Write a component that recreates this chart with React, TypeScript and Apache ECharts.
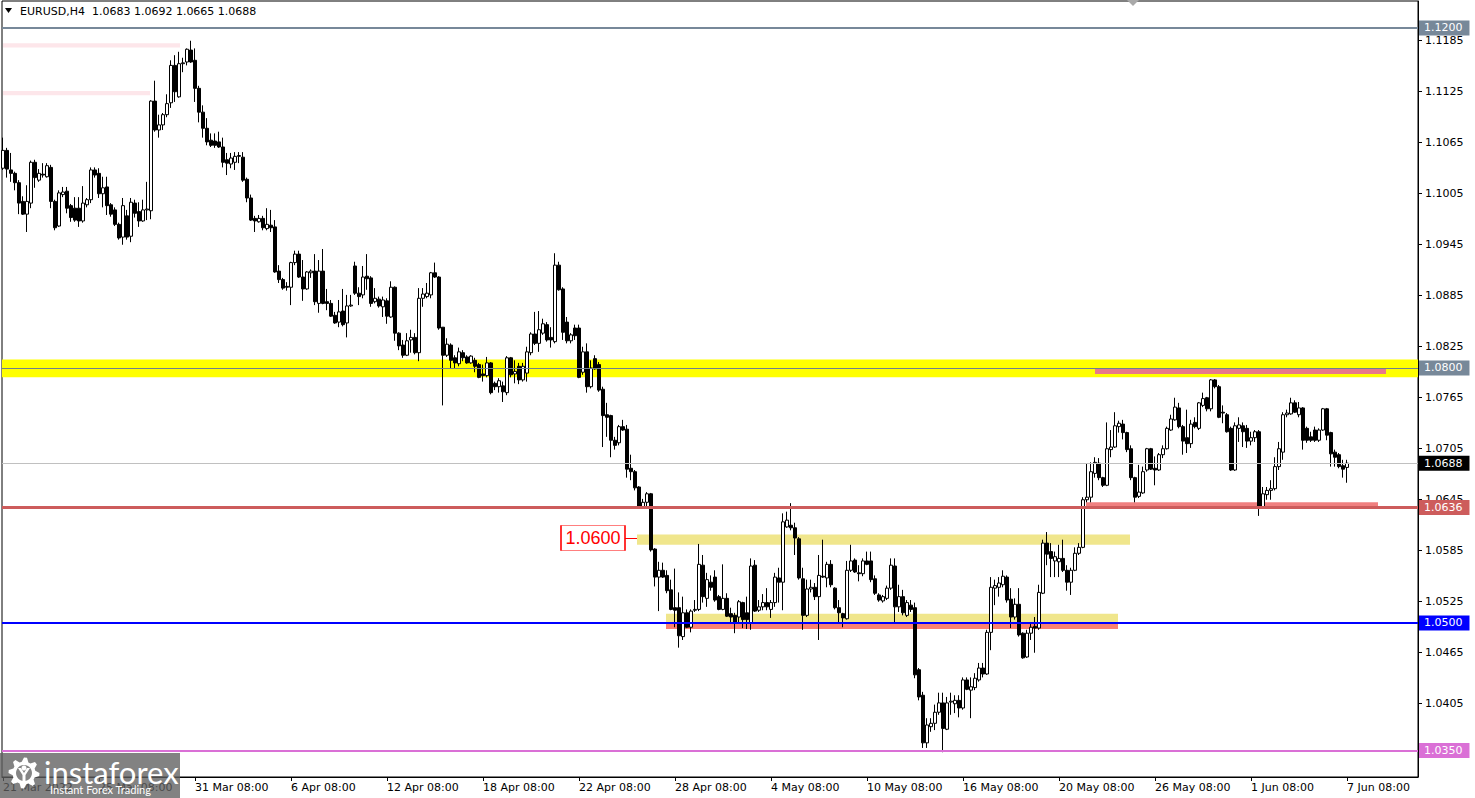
import React, { useEffect, useRef } from "react";
import * as echarts from "echarts";

// ---- data (EURUSD H4, bar index 0 = 21 Mar 2022 00:00) ----
const firstBar = 2;
const opens = [
  1.1035,1.1056,1.1033,1.1029,1.1018,1.0996,1.0981,1.0994,1.1042,1.1021,
  1.1028,1.1025,1.1036,1.0996,1.0967,1.1004,1.1008,1.0991,1.0988,1.0988,
  1.0973,1.0992,1.0998,1.1033,1.1029,1.1005,1.1013,1.0992,1.0986,1.0969,
  1.0954,1.0979,1.0955,1.0994,1.0984,1.0973,1.0986,1.0985,1.1114,1.1080,
  1.1086,1.1098,1.1112,1.1156,1.1119,1.1158,1.1160,1.1174,1.1162,1.1129,
  1.1101,1.1082,1.1068,1.1067,1.1066,1.1060,1.1045,1.1040,1.1042,1.1049,
  1.1048,1.1022,1.1000,1.0976,1.0972,1.0976,1.0964,1.0968,1.0966,1.0914,
  1.0904,1.0896,1.0895,1.0924,1.0934,1.0907,1.0893,1.0912,1.0914,1.0876,
  1.0914,1.0878,1.0876,1.0862,1.0854,1.0867,1.0853,1.0873,1.0920,1.0888,
  1.0886,1.0908,1.0906,1.0878,1.0881,1.0872,1.0879,1.0860,1.0895,1.0841,
  1.0827,1.0815,1.0833,1.0836,1.0818,1.0882,1.0884,1.0886,1.0912,1.0907,
  1.0848,1.0815,1.0827,1.0812,1.0805,1.0818,1.0813,1.0806,1.0809,1.0804,
  1.0793,1.0791,1.0806,1.0782,1.0778,1.0779,1.0771,1.0812,1.0793,1.0802,
  1.0786,1.0794,1.0818,1.0840,1.0829,1.0841,1.0851,1.0836,1.0831,1.0921,
  1.0893,1.0854,1.0832,1.0847,1.0847,1.0795,1.0819,1.0778,1.0811,1.0804,
  1.0775,1.0745,1.0744,1.0715,1.0712,1.0731,1.0728,1.0682,1.0678,1.0660,
  1.0636,1.0642,1.0652,1.0587,1.0554,1.0562,1.0556,1.0539,1.0518,1.0518,
  1.0484,1.0512,1.0495,1.0515,1.0516,1.0568,1.0529,1.0548,1.0554,1.0531,
  1.0516,1.0529,1.0511,1.0509,1.0507,1.0524,1.0512,1.0500,1.0568,1.0515,
  1.0519,1.0524,1.0516,1.0524,1.0553,1.0548,1.0613,1.0615,1.0612,1.0599,
  1.0552,1.0509,1.0540,1.0542,1.0531,1.0555,1.0553,1.0569,1.0541,1.0518,
  1.0511,1.0505,1.0562,1.0574,1.0559,1.0558,1.0573,1.0573,1.0552,1.0533,
  1.0526,1.0529,1.0541,1.0567,1.0519,1.0531,1.0509,1.0521,1.0518,1.0445,
  1.0415,1.0359,1.0378,1.0382,1.0395,1.0406,1.0375,1.0407,1.0405,1.0409,
  1.0400,1.0433,1.0421,1.0424,1.0433,1.0447,1.0440,1.0489,1.0541,1.0542,
  1.0545,1.0554,1.0528,1.0507,1.0522,1.0488,1.0460,1.0488,1.0496,1.0494,
  1.0535,1.0594,1.0584,1.0573,1.0572,1.0576,1.0562,1.0548,1.0562,1.0582,
  1.0589,1.0645,1.0648,1.0676,1.0688,1.0671,1.0662,1.0704,1.0707,1.0731,
  1.0734,1.0724,1.0705,1.0671,1.0649,1.0653,1.0680,1.0705,1.0682,1.0680,
  1.0698,1.0705,1.0727,1.0739,1.0753,1.0731,1.0718,1.0711,1.0736,1.0729,
  1.0756,1.0765,1.0752,1.0786,1.0778,1.0748,1.0745,1.0729,1.0680,1.0729,
  1.0732,1.0729,1.0714,1.0718,1.0725,1.0636,1.0651,1.0656,1.0658,1.0684,
  1.0701,1.0745,1.0746,1.0759,1.0745,1.0753,1.0729,1.0719,1.0727,1.0715,
  1.0727,1.0752,1.0724,1.0701,1.0698,1.0685,1.0683,
];
const closes = [
  1.1056,1.1034,1.1029,1.1018,1.0994,1.0981,1.0996,1.1042,1.1024,1.1029,
  1.1027,1.1038,1.0996,1.0965,1.1006,1.1007,1.0988,1.0977,1.0974,1.0973,
  1.0994,1.0998,1.1033,1.1027,1.1005,1.1012,1.0991,1.0981,1.0969,1.0953,
  1.0991,1.0954,1.0995,1.0982,1.0973,1.0986,1.0987,1.1114,1.1080,1.1086,
  1.1098,1.1111,1.1156,1.1125,1.1158,1.1159,1.1175,1.1160,1.1129,1.1101,
  1.1082,1.1066,1.1062,1.1062,1.1060,1.1042,1.1041,1.1047,1.1049,1.1050,
  1.1021,1.1000,1.0974,1.0973,1.0976,1.0965,1.0969,1.0965,1.0913,1.0904,
  1.0894,1.0895,1.0924,1.0934,1.0907,1.0893,1.0913,1.0914,1.0878,1.0914,
  1.0876,1.0876,1.0861,1.0853,1.0866,1.0851,1.0873,1.0874,1.0888,1.0884,
  1.0907,1.0905,1.0876,1.0882,1.0873,1.0880,1.0861,1.0895,1.0841,1.0826,
  1.0815,1.0832,1.0836,1.0818,1.0882,1.0887,1.0888,1.0912,1.0907,1.0847,
  1.0815,1.0828,1.0809,1.0806,1.0819,1.0812,1.0806,1.0814,1.0802,1.0789,
  1.0791,1.0806,1.0771,1.0778,1.0785,1.0772,1.0812,1.0792,1.0796,1.0786,
  1.0802,1.0819,1.0840,1.0829,1.0845,1.0852,1.0833,1.0833,1.0921,1.0892,
  1.0842,1.0832,1.0839,1.0838,1.0789,1.0819,1.0778,1.0800,1.0799,1.0774,
  1.0744,1.0742,1.0715,1.0709,1.0731,1.0727,1.0681,1.0678,1.0659,1.0636,
  1.0642,1.0652,1.0586,1.0554,1.0562,1.0554,1.0538,1.0516,1.0515,1.0485,
  1.0512,1.0495,1.0514,1.0516,1.0569,1.0531,1.0551,1.0542,1.0527,1.0516,
  1.0529,1.0508,1.0507,1.0501,1.0525,1.0504,1.0504,1.0567,1.0514,1.0519,
  1.0524,1.0519,1.0524,1.0554,1.0548,1.0619,1.0621,1.0612,1.0600,1.0553,
  1.0509,1.0540,1.0542,1.0531,1.0556,1.0554,1.0569,1.0545,1.0518,1.0512,
  1.0506,1.0562,1.0573,1.0560,1.0558,1.0573,1.0569,1.0551,1.0535,1.0527,
  1.0531,1.0541,1.0568,1.0519,1.0531,1.0512,1.0524,1.0516,1.0439,1.0413,
  1.0359,1.0380,1.0382,1.0395,1.0406,1.0376,1.0406,1.0408,1.0409,1.0400,
  1.0433,1.0422,1.0425,1.0435,1.0447,1.0440,1.0489,1.0542,1.0544,1.0547,
  1.0555,1.0527,1.0507,1.0522,1.0486,1.0459,1.0488,1.0495,1.0494,1.0536,
  1.0594,1.0581,1.0576,1.0578,1.0576,1.0562,1.0548,1.0562,1.0582,1.0589,
  1.0645,1.0648,1.0678,1.0689,1.0671,1.0662,1.0705,1.0707,1.0732,1.0735,
  1.0724,1.0704,1.0671,1.0648,1.0654,1.0678,1.0705,1.0681,1.0680,1.0698,
  1.0705,1.0729,1.0740,1.0754,1.0731,1.0714,1.0711,1.0734,1.0731,1.0759,
  1.0764,1.0752,1.0786,1.0778,1.0742,1.0747,1.0725,1.0680,1.0732,1.0733,
  1.0725,1.0714,1.0718,1.0725,1.0636,1.0652,1.0656,1.0658,1.0684,1.0705,
  1.0745,1.0747,1.0759,1.0748,1.0753,1.0715,1.0715,1.0715,1.0715,1.0727,
  1.0752,1.0721,1.0699,1.0695,1.0684,1.0681,1.0688,
];
const lows = [
  1.1033,1.1024,1.1019,1.1009,1.0981,1.0980,1.0960,1.0988,1.1012,1.1019,
  1.1024,1.1024,1.0988,1.0962,1.0966,1.1001,1.0982,1.0972,1.0972,1.0966,
  1.0971,1.0989,1.0994,1.1024,1.1000,1.0989,1.0980,1.0978,1.0967,1.0951,
  1.0945,1.0951,1.0948,1.0977,1.0966,1.0972,1.0974,1.0975,1.1078,1.1071,
  1.1080,1.1095,1.1106,1.1113,1.1118,1.1148,1.1156,1.1159,1.1113,1.1089,
  1.1071,1.1062,1.1060,1.1059,1.1059,1.1036,1.1027,1.1035,1.1033,1.1041,
  1.1019,1.0995,1.0973,1.0960,1.0971,1.0962,1.0962,1.0960,1.0912,1.0900,
  1.0892,1.0891,1.0874,1.0921,1.0906,1.0879,1.0892,1.0906,1.0874,1.0865,
  1.0875,1.0868,1.0860,1.0852,1.0848,1.0849,1.0836,1.0872,1.0886,1.0874,
  1.0882,1.0892,1.0872,1.0876,1.0871,1.0860,1.0852,1.0859,1.0832,1.0821,
  1.0812,1.0814,1.0818,1.0816,1.0808,1.0872,1.0882,1.0882,1.0906,1.0845,
  1.0756,1.0813,1.0800,1.0800,1.0802,1.0808,1.0805,1.0805,1.0795,1.0788,
  1.0784,1.0789,1.0769,1.0774,1.0771,1.0760,1.0768,1.0789,1.0782,1.0781,
  1.0784,1.0784,1.0815,1.0827,1.0819,1.0839,1.0831,1.0824,1.0829,1.0891,
  1.0833,1.0829,1.0829,1.0833,1.0788,1.0792,1.0771,1.0776,1.0798,1.0772,
  1.0707,1.0719,1.0695,1.0704,1.0709,1.0726,1.0671,1.0668,1.0656,1.0635,
  1.0635,1.0636,1.0584,1.0543,1.0514,1.0553,1.0535,1.0515,1.0495,1.0471,
  1.0480,1.0494,1.0489,1.0513,1.0514,1.0524,1.0519,1.0538,1.0525,1.0515,
  1.0515,1.0507,1.0501,1.0488,1.0501,1.0494,1.0493,1.0492,1.0513,1.0513,
  1.0515,1.0515,1.0506,1.0519,1.0524,1.0515,1.0612,1.0609,1.0580,1.0551,
  1.0492,1.0507,1.0536,1.0527,1.0480,1.0553,1.0542,1.0542,1.0516,1.0501,
  1.0495,1.0504,1.0560,1.0559,1.0549,1.0555,1.0568,1.0548,1.0533,1.0525,
  1.0524,1.0527,1.0539,1.0500,1.0513,1.0509,1.0507,1.0513,1.0435,1.0409,
  1.0353,1.0353,1.0372,1.0374,1.0392,1.0348,1.0374,1.0392,1.0394,1.0389,
  1.0398,1.0421,1.0388,1.0421,1.0431,1.0436,1.0439,1.0468,1.0521,1.0531,
  1.0542,1.0524,1.0494,1.0504,1.0484,1.0458,1.0459,1.0480,1.0465,1.0492,
  1.0534,1.0568,1.0554,1.0554,1.0554,1.0560,1.0538,1.0533,1.0561,1.0580,
  1.0588,1.0642,1.0642,1.0671,1.0668,1.0660,1.0661,1.0695,1.0706,1.0724,
  1.0716,1.0701,1.0668,1.0642,1.0647,1.0652,1.0678,1.0680,1.0662,1.0679,
  1.0694,1.0704,1.0726,1.0738,1.0729,1.0698,1.0700,1.0706,1.0729,1.0727,
  1.0754,1.0749,1.0749,1.0776,1.0741,1.0735,1.0724,1.0679,1.0679,1.0713,
  1.0707,1.0706,1.0709,1.0713,1.0626,1.0635,1.0645,1.0645,1.0656,1.0680,
  1.0692,1.0742,1.0745,1.0747,1.0742,1.0704,1.0712,1.0713,1.0713,1.0713,
  1.0726,1.0715,1.0684,1.0684,1.0682,1.0671,1.0665,
];
const highs = [
  1.1071,1.1059,1.1053,1.1031,1.1021,1.1002,1.1015,1.1044,1.1045,1.1034,
  1.1041,1.1041,1.1039,1.0998,1.1009,1.1013,1.1013,1.0993,1.1001,1.1001,
  1.1014,1.1000,1.1036,1.1036,1.1035,1.1025,1.1025,1.0994,1.0989,1.0971,
  1.1000,1.0986,1.1000,1.0998,1.0995,1.0998,1.1019,1.1115,1.1138,1.1098,
  1.1100,1.1122,1.1162,1.1168,1.1172,1.1165,1.1176,1.1185,1.1176,1.1132,
  1.1109,1.1094,1.1076,1.1076,1.1078,1.1071,1.1053,1.1053,1.1054,1.1054,
  1.1054,1.1024,1.1004,1.0979,1.0980,1.0979,1.0988,1.0986,1.0974,1.0921,
  1.0906,1.0901,1.0925,1.0938,1.0938,1.0927,1.0914,1.0916,1.0934,1.0927,
  1.0940,1.0893,1.0880,1.0866,1.0880,1.0893,1.0886,1.0886,1.0925,1.0895,
  1.0920,1.0934,1.0908,1.0894,1.0884,1.0884,1.0882,1.0902,1.0896,1.0842,
  1.0833,1.0841,1.0845,1.0841,1.0894,1.0894,1.0900,1.0913,1.0924,1.0908,
  1.0848,1.0835,1.0829,1.0815,1.0824,1.0821,1.0815,1.0815,1.0812,1.0806,
  1.0804,1.0813,1.0807,1.0784,1.0788,1.0784,1.0814,1.0813,1.0809,1.0806,
  1.0806,1.0825,1.0842,1.0866,1.0867,1.0858,1.0854,1.0848,1.0935,1.0925,
  1.0895,1.0860,1.0841,1.0851,1.0851,1.0825,1.0829,1.0809,1.0815,1.0807,
  1.0778,1.0759,1.0745,1.0719,1.0733,1.0739,1.0733,1.0698,1.0680,1.0661,
  1.0646,1.0654,1.0653,1.0588,1.0572,1.0571,1.0562,1.0551,1.0564,1.0536,
  1.0531,1.0516,1.0516,1.0527,1.0593,1.0580,1.0559,1.0556,1.0562,1.0533,
  1.0569,1.0535,1.0518,1.0512,1.0527,1.0525,1.0531,1.0576,1.0574,1.0527,
  1.0534,1.0541,1.0527,1.0559,1.0565,1.0629,1.0631,1.0641,1.0618,1.0601,
  1.0565,1.0551,1.0551,1.0547,1.0580,1.0598,1.0572,1.0574,1.0542,1.0527,
  1.0512,1.0573,1.0592,1.0576,1.0568,1.0576,1.0584,1.0584,1.0556,1.0535,
  1.0533,1.0544,1.0576,1.0576,1.0545,1.0539,1.0527,1.0527,1.0524,1.0447,
  1.0419,1.0388,1.0388,1.0404,1.0418,1.0418,1.0413,1.0418,1.0415,1.0415,
  1.0436,1.0436,1.0436,1.0441,1.0453,1.0453,1.0492,1.0554,1.0551,1.0554,
  1.0562,1.0556,1.0541,1.0529,1.0541,1.0489,1.0492,1.0500,1.0507,1.0545,
  1.0598,1.0607,1.0594,1.0584,1.0592,1.0598,1.0568,1.0565,1.0589,1.0594,
  1.0648,1.0688,1.0689,1.0695,1.0694,1.0672,1.0736,1.0727,1.0748,1.0738,
  1.0739,1.0725,1.0709,1.0672,1.0686,1.0684,1.0706,1.0706,1.0696,1.0700,
  1.0709,1.0731,1.0745,1.0765,1.0759,1.0733,1.0751,1.0739,1.0742,1.0760,
  1.0771,1.0766,1.0787,1.0787,1.0780,1.0756,1.0747,1.0731,1.0736,1.0742,
  1.0736,1.0733,1.0725,1.0727,1.0727,1.0660,1.0660,1.0668,1.0695,1.0713,
  1.0748,1.0751,1.0765,1.0762,1.0760,1.0754,1.0731,1.0725,1.0731,1.0729,
  1.0753,1.0753,1.0725,1.0704,1.0700,1.0692,1.0692,
];

const xTickBars = [2, 26, 50, 74, 98, 122, 146, 170, 194, 218, 242, 266, 290, 314, 338];
const xTickLabels = [
  "21 Mar 2022", "25 Mar 08:00", "31 Mar 08:00", "6 Apr 08:00", "12 Apr 08:00",
  "18 Apr 08:00", "22 Apr 08:00", "28 Apr 08:00", "4 May 08:00", "10 May 08:00",
  "16 May 08:00", "20 May 08:00", "26 May 08:00", "1 Jun 08:00", "7 Jun 08:00",
];
const yTickValues = [
  1.0345, 1.0405, 1.0465, 1.0525, 1.0585, 1.0645, 1.0705, 1.0765,
  1.0825, 1.0885, 1.0945, 1.1005, 1.1065, 1.1125, 1.1185,
];

// horizontal levels
const levelPrices = [1.12, 1.08, 1.0636, 1.05, 1.035];
const levelColors = ["#778899", "#6f7f8f", "#cd5c5c", "#0000ff", "#da70d6"];
const levelWidths = [2, 1, 3, 2, 2];
const levelLabelBg = ["#778899", "#778899", "#cd5c5c", "#0000ff", "#da70d6"];

// rectangle objects: [fromBar, toBar, topPrice, bottomPrice]
const zoneFrom = [2, 2, 275, 272.75, 160.5, 167.75, 167.75];
const zoneTo = [46.25, 38.75, 347.75, 345.75, 283.75, 280.75, 280.75];
const zoneTop = [1.1182, 1.1126, 1.07995, 1.0642, 1.0604, 1.0511, 1.0500];
const zoneBottom = [1.1177, 1.1121, 1.0793, 1.0637, 1.0592, 1.0501, 1.0493];
const zoneColors = ["#fde6ea", "#fde6ea", "#e8788a", "#f08080", "#f0e68c", "#f0e68c", "#fa8072"];

// wide support/resistance band
const bandTop = 1.0810;
const bandBottom = 1.0789;

// price label object
const priceLabelValue = 1.06;
const priceLabelBar = 149.5;
const priceLabelLinkFrom = 157.5;
const priceLabelLinkTo = 160.5;

const xMin = 1.75;
const xMax = 355.75;
const yMin = 1.031882;
const yMax = 1.123176;

const FONT = "DejaVu Sans";

export default function App() {
  const ref = useRef<HTMLDivElement>(null);

  useEffect(() => {
    if (!ref.current) return;
    const chart = echarts.init(ref.current, null, { renderer: "svg" });

    const data = opens.map((o, k) => [firstBar + k, o, closes[k], lows[k], highs[k]]);
    const last = opens.length - 1;
    const lastClose = closes[last];
    const titleText =
      "EURUSD,H4  " +
      [opens[last], highs[last], lows[last], closes[last]].map((v) => v.toFixed(4)).join(" ");

    const lineItems: any[] = levelPrices.map((p, i) => ({
      yAxis: p,
      lineStyle: { color: levelColors[i], width: levelWidths[i], type: "solid" },
      label: { backgroundColor: levelLabelBg[i] },
    }));
    lineItems.splice(2, 0, {
      yAxis: lastClose,
      lineStyle: { color: "#c0c0c0", width: 1, type: "solid" },
      label: { backgroundColor: "#000000" },
    });
    lineItems.push([
      { coord: [priceLabelLinkFrom, priceLabelValue], lineStyle: { color: "#ff0000", width: 1, type: "solid" }, label: { show: false } },
      { coord: [priceLabelLinkTo, priceLabelValue] },
    ]);

    const areaItems: any[] = [
      [
        { yAxis: bandTop, itemStyle: { color: "#ffff00", opacity: 1 } },
        { yAxis: bandBottom },
      ],
      ...zoneFrom.map((f, i) => [
        { xAxis: f, yAxis: zoneTop[i], itemStyle: { color: zoneColors[i], opacity: 1 } },
        { xAxis: zoneTo[i], yAxis: zoneBottom[i] },
      ]),
    ];

    // gear outline for the logo
    const gearPts: number[][] = [];
    const teeth = 8;
    for (let i = 0; i < teeth * 4; i++) {
      const a = (i / (teeth * 4)) * Math.PI * 2 - Math.PI / 2;
      const r = i % 4 < 2 ? 15.5 : 11.5;
      gearPts.push([24 + r * Math.cos(a), 773 + r * Math.sin(a)]);
    }

    chart.setOption({
      animation: false,
      backgroundColor: "#ffffff",
      grid: {
        left: 2,
        top: 1,
        width: 1416,
        height: 776,
        show: true,
        borderColor: "#000",
        borderWidth: 1,
        backgroundColor: "#fff",
        containLabel: false,
        outerBoundsMode: "none",
      },
      xAxis: {
        type: "value",
        min: xMin,
        max: xMax,
        axisLine: { show: true, onZero: false, lineStyle: { color: "#000", width: 1 } },
        axisTick: { show: true, customValues: xTickBars, length: 4, lineStyle: { color: "#000" } },
        axisLabel: {
          show: true,
          customValues: xTickBars,
          formatter: (v: number) => {
            const i = xTickBars.indexOf(Math.round(v));
            return i >= 0 ? xTickLabels[i] : "";
          },
          align: "left",
          color: "#000",
          fontSize: 11,
          fontFamily: FONT,
          margin: 5,
        },
        splitLine: { show: false },
      },
      yAxis: {
        type: "value",
        position: "right",
        min: yMin,
        max: yMax,
        scale: true,
        axisLine: { show: true, onZero: false, lineStyle: { color: "#000", width: 1 } },
        axisTick: { show: true, customValues: yTickValues, length: 4, lineStyle: { color: "#000" } },
        axisLabel: {
          show: true,
          customValues: yTickValues,
          formatter: (v: number) => v.toFixed(4),
          color: "#000",
          fontSize: 11,
          fontFamily: FONT,
          margin: 7,
        },
        splitLine: { show: false },
      },
      series: [
        {
          type: "candlestick",
          data,
          barWidth: 3,
          itemStyle: {
            color: "#ffffff",
            color0: "#000000",
            borderColor: "#000000",
            borderColor0: "#000000",
            borderColorDoji: "#000000",
            borderWidth: 1,
          },
          emphasis: { disabled: true },
          markArea: {
            silent: true,
            precision: 5,
            label: { show: false },
            data: areaItems,
          },
          markLine: {
            silent: true,
            precision: 4,
            symbol: ["none", "none"],
            animation: false,
            label: {
              show: true,
              position: "end",
              distance: 1,
              formatter: (p: any) => Number(p.value).toFixed(4),
              color: "#ffffff",
              fontSize: 11,
              fontFamily: FONT,
              padding: [2, 7, 1, 5],
              lineHeight: 12,
            },
            emphasis: { disabled: true },
            data: lineItems,
          },
          markPoint: {
            silent: true,
            precision: 4,
            data: [
              {
                coord: [priceLabelBar, priceLabelValue],
                symbol: "rect",
                symbolSize: [64, 25],
                itemStyle: { color: "#ffffff", borderColor: "#ff0000", borderWidth: 1 },
                label: {
                  show: true,
                  position: "inside",
                  formatter: () => priceLabelValue.toFixed(4),
                  color: "#ff0000",
                  fontSize: 18,
                  fontFamily: "Liberation Sans",
                },
              },
            ],
          },
        },
      ],
      graphic: {
        elements: [
          {
            type: "polygon",
            z: 100,
            shape: { points: [[5, 8], [12, 8], [8.5, 13]] },
            style: { fill: "#000" },
          },
          {
            type: "text",
            z: 100,
            style: {
              text: titleText,
              x: 20,
              y: 11,
              fill: "#000",
              fontSize: 11,
              fontFamily: FONT,
              verticalAlign: "middle",
            },
          },
          {
            type: "polygon",
            z: 100,
            shape: { points: [[1127, 0], [1139, 0], [1133, 6]] },
            style: { fill: "#a9a9a9" },
          },
          {
            type: "group",
            z: 100,
            children: [
              {
                type: "rect",
                z: 100,
                shape: { x: 0, y: 753, width: 180, height: 45 },
                style: { fill: "rgba(95,95,95,0.78)" },
              },
              {
                type: "polygon",
                z: 101,
                shape: { points: gearPts },
                style: { fill: "#ffffff" },
              },
              {
                type: "circle",
                z: 102,
                shape: { cx: 24, cy: 773, r: 8 },
                style: { fill: "#858585" },
              },
              {
                type: "circle",
                z: 103,
                shape: { cx: 24, cy: 768, r: 2.5 },
                style: { fill: "#ffffff" },
              },
              {
                type: "polygon",
                z: 103,
                shape: { points: [[18, 768], [21, 768], [24, 773], [27, 768], [30, 768], [25.5, 775], [25.5, 781], [22.5, 781], [22.5, 775]] },
                style: { fill: "#ffffff" },
              },
              {
                type: "text",
                z: 103,
                style: {
                  text: "instaforex",
                  x: 44,
                  y: 772,
                  fill: "#ffffff",
                  fontSize: 31,
                  fontFamily: "Lato",
                  verticalAlign: "middle",
                },
              },
              {
                type: "text",
                z: 103,
                style: {
                  text: "Instant Forex Trading",
                  x: 50,
                  y: 789,
                  fill: "#ffffff",
                  fontSize: 11,
                  fontFamily: "Lato",
                  verticalAlign: "middle",
                },
              },
            ],
          },
        ],
      },
    });

    return () => {
      chart.dispose();
    };
  }, []);

  return (
    <div
      ref={ref}
      style={{ position: "absolute", left: 0, top: 0, width: 1475, height: 798, background: "#fff" }}
    />
  );
}
